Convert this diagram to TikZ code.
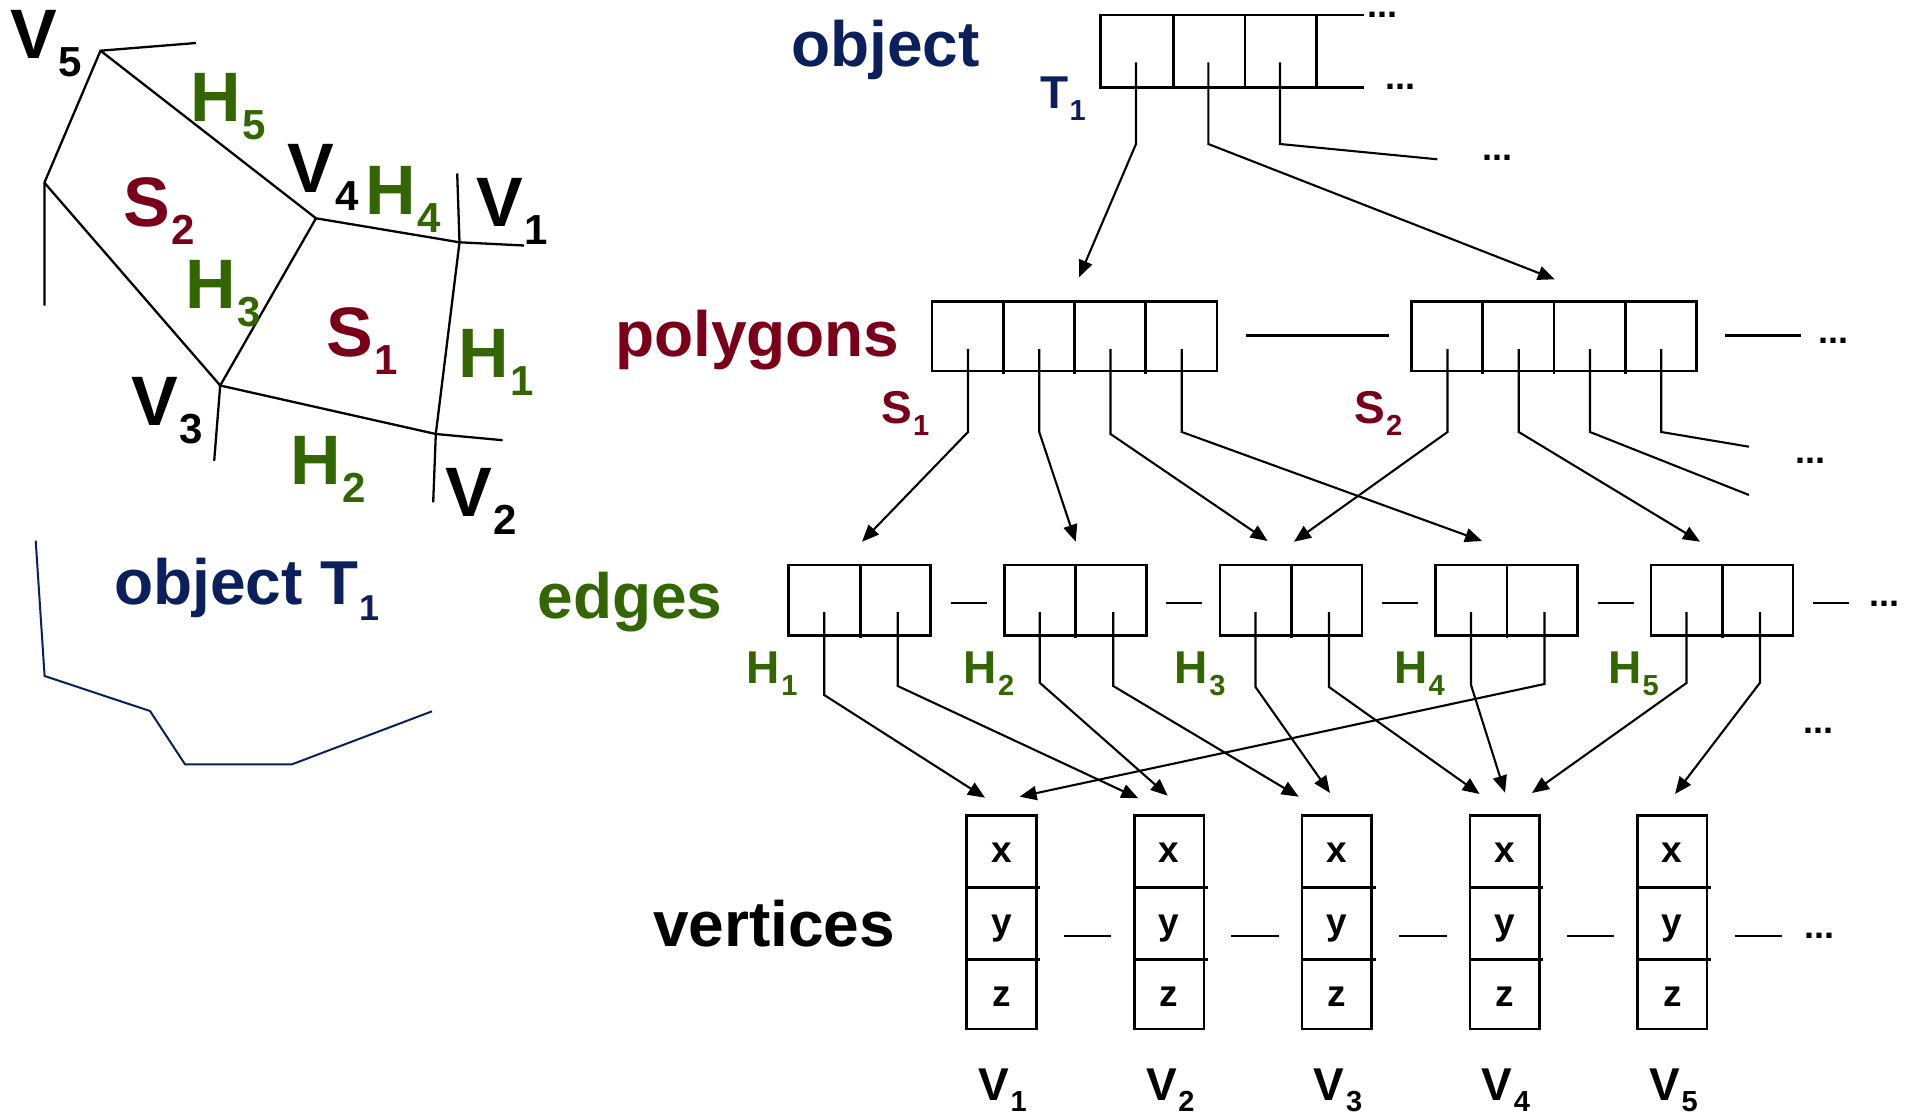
\documentclass[tikz,border=0pt]{standalone}
\usepackage{fontspec}
\setmainfont{Liberation Sans}
\usetikzlibrary{arrows.meta,calc}
\definecolor{navy}{RGB}{10,31,92}
\definecolor{maroon}{RGB}{122,0,26}
\definecolor{leaf}{RGB}{51,102,0}

% letter with a lowered index: text, index, size, index size, drop
\newcommand\subl[5]{{\fontsize{#3}{#3}\selectfont #1}\kern1.5pt\raisebox{-#5}{\fontsize{#4}{#4}\selectfont #2}}
\newcommand\biglab[2]{\subl{#1}{#2}{70}{42}{18pt}}
\newcommand\smlab[2]{\subl{#1}{#2}{46}{29}{12pt}}
\newcommand\headfont{\fontsize{64}{64}\selectfont}

\begin{document}
\begin{tikzpicture}[x=1pt,y=-1pt,
  lbl/.style={inner sep=0pt, outer sep=0pt, anchor=base west, font=\bfseries},
  ellip/.style={inner sep=0pt, anchor=base west, font=\bfseries\fontsize{36}{36}\selectfont},
  sketch/.style={line width=2.3pt, line join=miter},
  boxline/.style={line width=2.6pt},
  cellbox/.style={draw, line width=2.6pt, inner sep=0pt, outer sep=0pt, anchor=north west},
  wire/.style={line width=2.1pt, line join=miter},
  ptr/.style={wire, -{Triangle[length=17pt,width=14pt]}},
  coord/.style={inner sep=0pt, anchor=base, font=\bfseries\fontsize{37}{37}\selectfont}
]
\fill[white] (0,0) rectangle (1913,1115);
\useasboundingbox (0,0) rectangle (1913,1115);

% ---------------- sketch of object T1 ----------------
\coordinate (v5) at (100.5,50.7);
\coordinate (v5e) at (196,43);
\coordinate (a) at (44.4,182.7);
\coordinate (ad) at (44.4,305.5);
\coordinate (v4) at (316,218.3);
\coordinate (v1) at (459.5,242.3);
\coordinate (v1u) at (457.2,173.5);
\coordinate (v1e) at (524,245.5);
\coordinate (v3) at (220.2,385.5);
\coordinate (v3d) at (214.2,460.8);
\coordinate (v2) at (435.8,434);
\coordinate (v2e) at (502.6,440.2);
\coordinate (v2d) at (433.2,502.3);
\draw[sketch] (v5e) -- (v5) -- (a) -- (ad);
\draw[sketch] (v5) -- (v4) -- (v1) -- (v1e);
\draw[sketch] (v1u) -- (v1) -- (v2) -- (v2d);
\draw[sketch] (a) -- (v3) -- (v3d);
\draw[sketch] (v4) -- (v3) -- (v2) -- (v2e);

\node[lbl] (lV5) at (10,58.5) {\biglab{V}{5}};
\node[lbl, text=leaf] (lH5) at (190,122) {\biglab{H}{5}};
\node[lbl] (lV4) at (287,193) {\biglab{V}{4}};
\node[lbl, text=leaf] (lH4) at (365,215) {\biglab{H}{4}};
\node[lbl] (lV1) at (476,226.6) {\biglab{V}{1}};
\node[lbl, text=maroon] (lS2) at (123,227) {\biglab{S}{2}};
\node[lbl, text=leaf] (lH3) at (185,308) {\biglab{H}{3}};
\node[lbl, text=maroon] (lS1) at (326,356.4) {\biglab{S}{1}};
\node[lbl, text=leaf] (lH1) at (458,377) {\biglab{H}{1}};
\node[lbl] (lV3) at (131,425) {\biglab{V}{3}};
\node[lbl, text=leaf] (lH2) at (290,484) {\biglab{H}{2}};
\node[lbl] (lV2) at (445,516.6) {\biglab{V}{2}};

% outline of the object
\draw[navy, line width=2pt] (35.7,540.7) -- (44.6,676) -- (150,711) -- (185,764.3) -- (292,764.3) -- (432,711.3);
\node[lbl, text=navy] (objname) at (114,604) {\headfont object};
\node[lbl, text=navy] (objT) at (320.5,604) {\subl{T}{1}{62}{36}{16.5pt}};

% ---------------- object record ----------------
\node[lbl, text=navy] (hobj) at (791,66.7) {\headfont object};
\node[lbl, text=navy] (tT1) at (1040,108.3) {\smlab{T}{1}};
\draw[boxline] (1364.3,15) -- (1100.7,15) -- (1100.7,87.3) -- (1364.3,87.3);
\foreach \x in {1173.3,1245,1316.7} \draw[boxline] (\x,15) -- (\x,87.3);
\node[ellip] (od1) at (1367.5,17.5) {...};
\node[ellip] (od2) at (1385.5,89.3) {...};
\node[ellip] (od3) at (1482.5,161) {...};

\coordinate (o1) at (1136,62.3);
\coordinate (o2) at (1208.3,62.3);
\coordinate (o3) at (1280,62.3);
\coordinate (toP1) at (1079,277.3);
\coordinate (toP2) at (1554.8,279.3);
\coordinate (oEnd) at (1437.3,159.3);
\draw[ptr] (o1) -- ++(0,81.7) -- (toP1);
\draw[ptr] (o2) -- ++(0,81.7) -- (toP2);
\draw[wire] (o3) -- ++(0,81.7) -- (oEnd);

% ---------------- polygons ----------------
\node[lbl, text=maroon] (hpoly) at (615,356) {\headfont polygons};
\node[cellbox, minimum width=285pt, minimum height=69.3pt] (P1) at (932,301.7) {};
\node[cellbox, minimum width=285pt, minimum height=69.3pt] (P2) at (1411.5,301.7) {};
\foreach \b in {P1,P2}
  \foreach \k in {1,2,3}
    \draw[boxline] ([xshift=71.25*\k pt]\b.north west) -- ([xshift=71.25*\k pt, yshift=-72.5pt]\b.north west);
\node[lbl, text=maroon] (lbS1) at (881,423) {\smlab{S}{1}};
\node[lbl, text=maroon] (lbS2) at (1354,423) {\smlab{S}{2}};
\draw[boxline] (P1.east) ++(28.6,-1) coordinate (pl1) -- ++(142.9,0);
\draw[boxline] (P2.east) ++(28.5,-1) coordinate (pl2) -- ++(76,0);
\node[ellip] (pd1) at (1818,343) {...};
\node[ellip] (pd2) at (1795,463) {...};

\foreach \k [count=\i] in {0,1,2,3} {
  \coordinate (P1s\i) at (968+71.25*\k,349);
  \coordinate (P2s\i) at (1447.5+71.25*\k,349);
}
\coordinate (e1in) at (862,541.7);
\coordinate (e2in) at (1075.7,541.7);
\coordinate (e3inA) at (1267.6,541);
\coordinate (e4in) at (1482,541);
\coordinate (e3inB) at (1294,541.7);
\coordinate (e5in) at (1700,541.7);
\coordinate (pEndA) at (1749,495);
\coordinate (pEndB) at (1749,446.7);
\draw[ptr] (P1s1) -- ++(0,83) -- (e1in);
\draw[ptr] (P1s2) -- ++(0,83) -- (e2in);
\draw[ptr] (P1s3) -- ++(0,85) -- (e3inA);
\draw[ptr] (P1s4) -- ++(0,83) -- (e4in);
\draw[ptr] (P2s1) -- ++(0,83) -- (e3inB);
\draw[ptr] (P2s2) -- ++(0,83) -- (e5in);
\draw[wire] (P2s3) -- ++(0,83) -- (pEndA);
\draw[wire] (P2s4) -- ++(0,83) -- (pEndB);

% ---------------- edges ----------------
\node[lbl, text=leaf] (hedge) at (537.5,618) {\headfont edges};
\foreach \x [count=\i] in {788.7,1004.2,1220,1435.5,1651} {
  \node[cellbox, minimum width=142pt, minimum height=70.7pt] (E\i) at (\x,565) {};
  \draw[boxline] (\x+71.5,565) -- (\x+71.5,637.5);
  \draw[boxline] (\x+162,603) -- (\x+198,603);
  \coordinate (E\i a) at (\x+35.5,612);
  \coordinate (E\i b) at (\x+109,612);
}
\node[ellip] (ed1) at (1869.5,606) {...};
\node[ellip] (ed2) at (1803.5,733) {...};
\foreach \x/\k [count=\i] in {746.6/1,963.3/2,1174.6/3,1394/4,1608/5}
  \node[lbl, text=leaf] (lbH\k) at (\x,683) {\smlab{H}{\k}};

\coordinate (w1a) at (985,797.7);
\coordinate (w2a) at (1138.3,798.3);
\coordinate (w2b) at (1167.7,795.7);
\coordinate (w3a) at (1298.7,796.7);
\coordinate (w3b) at (1330,793);
\coordinate (w4a) at (1479.6,794);
\coordinate (w4b) at (1505,792.7);
\coordinate (w1b) at (1019.6,796.7);
\coordinate (w4c) at (1532,793);
\coordinate (w5a) at (1675,794);
\draw[ptr] (E1a) -- ++(0,83) -- (w1a);
\draw[ptr] (E1b) -- ++(0,74) -- (w2a);
\draw[ptr] (E2a) -- ++(0,70.7) -- (w2b);
\draw[ptr] (E2b) -- ++(0,74) -- (w3a);
\draw[ptr] (E3a) -- ++(0,75) -- (w3b);
\draw[ptr] (E3b) -- ++(0,75) -- (w4a);
\draw[ptr] (E4a) -- ++(0,73) -- (w4b);
\draw[ptr] (E4b) -- ++(0,72) -- (w1b);
\draw[ptr] (E5a) -- ++(0,71) -- (w4c);
\draw[ptr] (E5b) -- ++(0,70.7) -- (w5a);

% ---------------- vertices ----------------
\node[lbl] (hvert) at (653,946) {\headfont vertices};
\foreach \x [count=\i] in {966.7,1134.4,1302.1,1469.8,1637.5} {
  \node[cellbox, minimum width=69.5pt, minimum height=213.3pt] (V\i) at (\x,815.7) {};
  \draw[boxline] (\x,887.3) -- (\x+73.5,887.3);
  \draw[boxline] (\x,959.3) -- (\x+73.5,959.3);
  \node[coord] (V\i x) at (\x+34.75,862.7) {x};
  \node[coord] (V\i y) at (\x+34.75,934.5) {y};
  \node[coord] (V\i z) at (\x+34.75,1006) {z};
  \draw[boxline] (\x+97,936) -- (\x+144.5,936);
  \node[lbl, anchor=base] (lbV\i) at (\x+36,1100) {\subl{V}{\i}{46}{29}{11.5pt}};
}
\node[ellip] (vd) at (1804.5,938) {...};
\end{tikzpicture}
\end{document}
